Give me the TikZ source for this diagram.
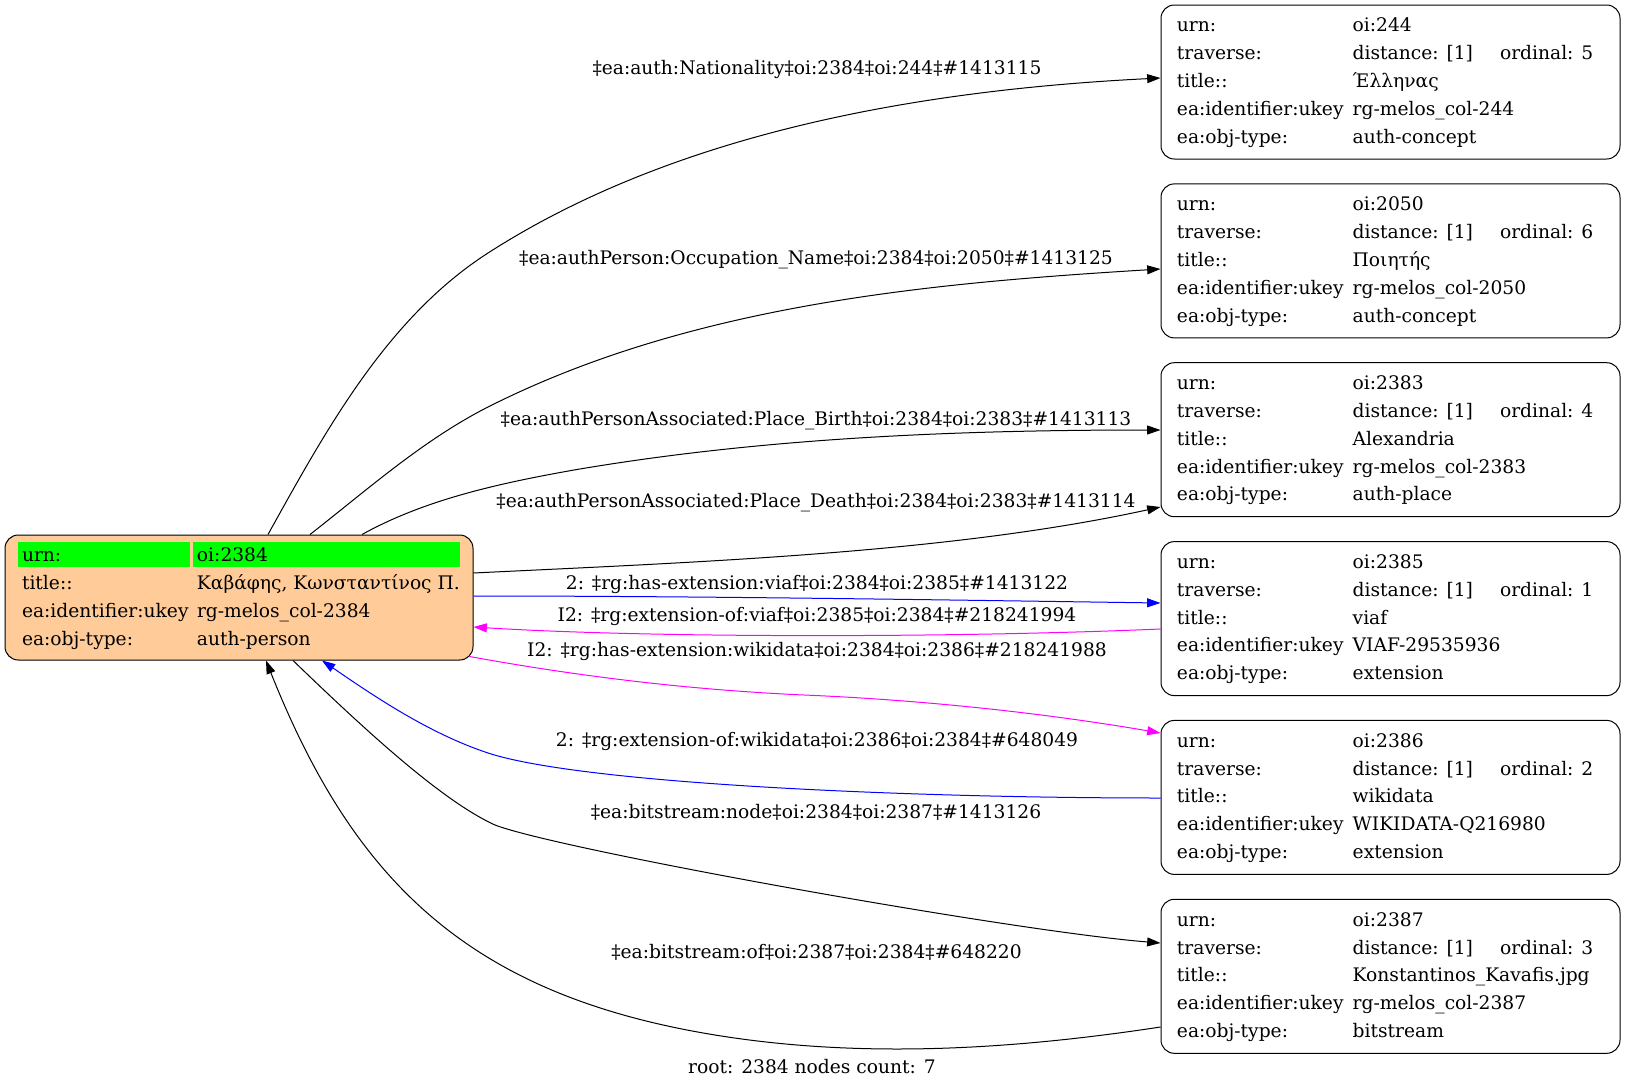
\documentclass[tikz,border=0pt]{standalone}
\usepackage{fontspec}
\setmainfont{DejaVu Serif}
\usetikzlibrary{arrows.meta}
\definecolor{peach}{HTML}{FFCC99}
\definecolor{gvgreen}{HTML}{00FF00}
\definecolor{gvblue}{HTML}{0000FF}
\definecolor{gvmagenta}{HTML}{FF00FF}
\renewcommand\arraystretch{1.241}
\newcommand\ca[1]{\makebox[131.8pt][l]{#1}}
\newcommand\cb[1]{\makebox[110.5pt][l]{#1}}
% one linked record: urn, ordinal, title, ukey, type
\newcommand\card[5]{%
\begin{tabular}{@{}l@{}l@{}l@{}}
\ca{urn:} & \cb{#1} & \\
\ca{traverse:} & \cb{distance: [1]} & \makebox[78pt][l]{ordinal: #2}\\
\ca{title::} & \cb{#3} & \\
\ca{ea:identifier:ukey} & \cb{#4} & \\
\ca{ea:obj-type:} & \cb{#5} &
\end{tabular}}
\newcommand\hl[2]{\hspace*{-3pt}\colorbox{gvgreen}{\makebox[#1][l]{\rule[-1.7pt]{0pt}{12.7pt}#2}}}
\begin{document}
\begin{tikzpicture}[x=0.75pt,y=-0.75pt,
  rec/.style={draw,rounded corners=10pt,line width=0.75pt,inner sep=0pt,
    minimum width=344.25pt,minimum height=115.5pt,font=\fontsize{14}{16.8}\selectfont},
  lab/.style={inner sep=0pt,font=\fontsize{14}{16.8}\selectfont},
  edge/.style={line width=0.75pt,-{Triangle[length=10pt,width=6.7pt]}}]
\path[use as bounding box] (0,0) rectangle (1625,1089);
\node[rec,fill=peach,minimum width=351pt,minimum height=93.75pt] (root) at (239,597.5) {%
\renewcommand\arraystretch{1.25}%
\begin{tabular}{@{\hspace{3pt}}l@{\hspace{5.25pt}}l@{}}
\hl{123pt}{urn:} & \hl{194.25pt}{oi:2384}\\
\makebox[126pt][l]{title::} & \makebox[197.25pt][l]{Καβάφης, Κωνσταντίνος Π.}\\
ea:identifier:ukey & rg-melos\_col-2384\\
ea:obj-type: & auth-person
\end{tabular}};
\node[rec] (n244) at (1390.5,82) {\card{oi:244}{5}{Έλληνας}{rg-melos\_col-244}{auth-concept}};
\node[rec] (n2050) at (1390.5,260.9) {\card{oi:2050}{6}{Ποιητής}{rg-melos\_col-2050}{auth-concept}};
\node[rec] (n2383) at (1390.5,439.7) {\card{oi:2383}{4}{Alexandria}{rg-melos\_col-2383}{auth-place}};
\node[rec] (n2385) at (1390.5,618.6) {\card{oi:2385}{1}{viaf}{VIAF-29535936}{extension}};
\node[rec] (n2386) at (1390.5,797.4) {\card{oi:2386}{2}{wikidata}{WIKIDATA-Q216980}{extension}};
\node[rec] (n2387) at (1390.5,976.3) {\card{oi:2387}{3}{Konstantinos\_Kavafis.jpg}{rg-melos\_col-2387}{bitstream}};
% edges
\draw[edge] (268,0 |- root.north) .. controls (326,430) and (387,318) .. (488,253) .. controls (681,129) and (931,89.5) .. (n244.west |- 0,78);
\draw[edge] (310,0 |- root.north) .. controls (367,490) and (423,440) .. (488,407) .. controls (692,304) and (932,283) .. (n2050.west |- 0,269);
\draw[edge] (362,0 |- root.north) .. controls (426,499) and (501,483) .. (574,470) .. controls (767,437) and (965,430) .. (n2383.west |- 0,430);
\draw[edge] (root.east |- 0,573) .. controls (700,562) and (950,553) .. (n2383.west |- 0,507);
\draw[edge,gvblue] (root.east |- 0,596) .. controls (700,596) and (950,600) .. (n2385.west |- 0,603);
\draw[edge,gvmagenta] (n2385.west |- 0,629) .. controls (950,638) and (650,638) .. (root.east |- 0,627);
\draw[edge,gvmagenta] ([shift={(-4,-4)}]root.south east) .. controls (582,677) and (693,690) .. (804,695) .. controls (923,700) and (1044,713) .. (n2386.west |- 0,733);
\draw[edge,gvblue] (n2386.west |- 0,798) .. controls (911,798) and (583,784) .. (488,753) .. controls (428,733) and (374,696) .. (322,0 |- root.south);
\draw[edge] (293,0 |- root.south) .. controls (360,725) and (440,800) .. (495,825) .. controls (560,850) and (1011,931) .. (n2387.west |- 0,943);
\draw[edge] (n2387.west |- 0,1027) .. controls (1003,1051) and (842,1060) .. (687,1030) .. controls (461,986) and (351,874) .. (266,0 |- root.south);
% labels
\node[lab] (lNat) at (817,69) {‡ea:auth:Nationality‡oi:2384‡oi:244‡\#1413115};
\node[lab] (lOcc) at (816,259.5) {‡ea:authPerson:Occupation\_Name‡oi:2384‡oi:2050‡\#1413125};
\node[lab] (lBirth) at (816,421) {‡ea:authPersonAssociated:Place\_Birth‡oi:2384‡oi:2383‡\#1413113};
\node[lab] (lDeath) at (816,503) {‡ea:authPersonAssociated:Place\_Death‡oi:2384‡oi:2383‡\#1413114};
\node[lab] (lViaf) at (817,584) {2: ‡rg:has-extension:viaf‡oi:2384‡oi:2385‡\#1413122};
\node[lab] (lViafOf) at (817,616) {I2: ‡rg:extension-of:viaf‡oi:2385‡oi:2384‡\#218241994};
\node[lab] (lWiki) at (817,651.5) {I2: ‡rg:has-extension:wikidata‡oi:2384‡oi:2386‡\#218241988};
\node[lab] (lWikiOf) at (817,741) {2: ‡rg:extension-of:wikidata‡oi:2386‡oi:2384‡\#648049};
\node[lab] (lBsNode) at (816,812.5) {‡ea:bitstream:node‡oi:2384‡oi:2387‡\#1413126};
\node[lab] (lBsOf) at (816.5,952.5) {‡ea:bitstream:of‡oi:2387‡oi:2384‡\#648220};
\node[lab] (cap) at (812,1067) {root: 2384 nodes count: 7};
\end{tikzpicture}
\end{document}
